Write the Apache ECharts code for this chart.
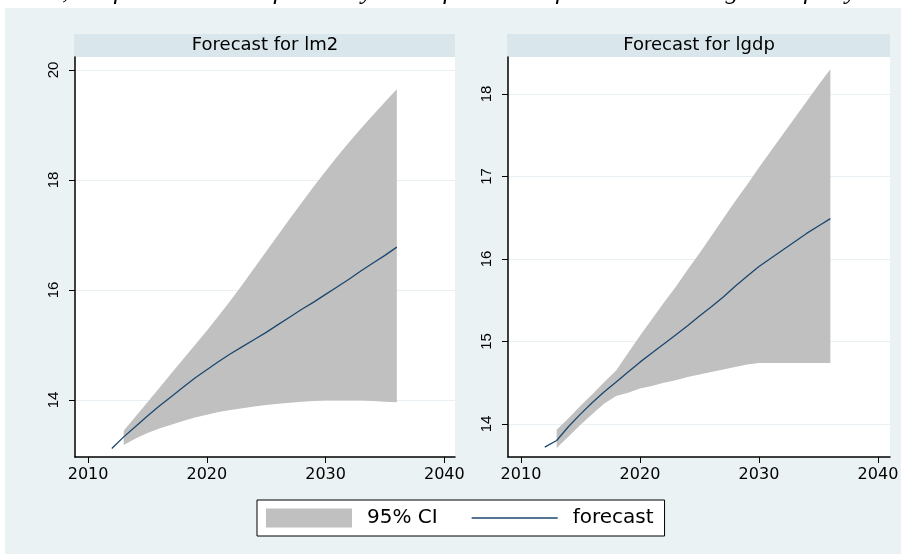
<!DOCTYPE html>
<html>
<head>
<meta charset="utf-8">
<script src="https://cdn.jsdelivr.net/npm/echarts@6/dist/echarts.min.js"></script>
<style>
  html, body { margin: 0; padding: 0; background: #ffffff; }
  #chart { width: 906px; height: 554px; }
</style>
</head>
<body>
<div id="chart"></div>
<script>
// Forecast horizon (annual)
const forecastYears = [2012, 2013, 2014, 2015, 2016, 2017, 2018, 2019, 2020, 2021, 2022, 2023, 2024,
                       2025, 2026, 2027, 2028, 2029, 2030, 2031, 2032, 2033, 2034, 2035, 2036];
const ciYears = [2013, 2014, 2015, 2016, 2017, 2018, 2019, 2020, 2021, 2022, 2023, 2024,
                 2025, 2026, 2027, 2028, 2029, 2030, 2031, 2032, 2033, 2034, 2035, 2036];

// lm2: dynamic forecast and 95% band
const lm2Forecast = [13.12, 13.33, 13.52, 13.71, 13.89, 14.06, 14.23, 14.40, 14.55, 14.70, 14.84, 14.97, 15.10,
                     15.23, 15.37, 15.51, 15.65, 15.78, 15.92, 16.06, 16.20, 16.35, 16.49, 16.63, 16.78];
const lm2Lower = [13.18, 13.30, 13.40, 13.48, 13.55, 13.62, 13.68, 13.73, 13.78, 13.82, 13.85, 13.88,
                  13.91, 13.93, 13.95, 13.97, 13.98, 13.99, 13.99, 13.99, 13.99, 13.98, 13.97, 13.96];
const lm2Upper = [13.44, 13.70, 13.96, 14.22, 14.48, 14.74, 15.00, 15.26, 15.53, 15.81, 16.10, 16.40,
                  16.70, 17.00, 17.30, 17.59, 17.88, 18.16, 18.43, 18.69, 18.94, 19.18, 19.42, 19.65];

// lgdp: dynamic forecast and 95% band
const lgdpForecast = [13.72, 13.80, 13.97, 14.12, 14.26, 14.39, 14.51, 14.63, 14.75, 14.86, 14.97, 15.08, 15.19,
                      15.31, 15.42, 15.54, 15.67, 15.79, 15.91, 16.01, 16.11, 16.21, 16.31, 16.40, 16.49];
const lgdpLower = [13.71, 13.85, 13.99, 14.12, 14.25, 14.34, 14.38, 14.43, 14.46, 14.50, 14.53, 14.57,
                   14.60, 14.63, 14.66, 14.69, 14.72, 14.74, 14.74, 14.74, 14.74, 14.74, 14.74, 14.74];
const lgdpUpper = [13.93, 14.07, 14.22, 14.36, 14.51, 14.65, 14.86, 15.07, 15.27, 15.47, 15.66, 15.87,
                   16.07, 16.28, 16.49, 16.70, 16.90, 17.11, 17.31, 17.51, 17.71, 17.91, 18.11, 18.30];

// Axis ticks and labels
const xTicks = [2010, 2020, 2030, 2040];
const lm2Ticks = [14, 16, 18, 20];
const lgdpTicks = [14, 15, 16, 17, 18];
const panelTitles = ['Forecast for lm2', 'Forecast for lgdp'];
const ciName = '95% CI';
const lineName = 'forecast';
const captionText = 'forecast, the forecast errors for the dynamic forecasts of the levels diverge to infinity.';

const BAND = '#c0c0c0';
const NAVY = '#1a476f';
const REGION = '#eaf2f3';
const STRIP = '#d9e6eb';
const GRIDLINE = '#e8f0f3';

const pairs = (xs, ys) => xs.map((x, i) => [x, ys[i]]);

function xAxisFor(gridIndex, min, max) {
  return {
    type: 'value', gridIndex, min, max,
    axisLine: { show: true, onZero: false, lineStyle: { color: '#000', width: 1.5 } },
    axisTick: { show: true, length: 6, customValues: xTicks, lineStyle: { color: '#000', width: 1 } },
    axisLabel: { customValues: xTicks, formatter: v => String(v), color: '#000',
                 fontFamily: 'DejaVu Sans', fontSize: 16, margin: 10 },
    splitLine: { show: false }
  };
}
function yAxisFor(gridIndex, min, max, ticks) {
  return {
    type: 'value', gridIndex, min, max,
    axisLine: { show: true, onZero: false, lineStyle: { color: '#000', width: 1.5 } },
    axisTick: { show: true, length: 6, customValues: ticks, lineStyle: { color: '#000', width: 1 } },
    axisLabel: { customValues: ticks, formatter: v => String(v), rotate: 90, color: '#000',
                 fontFamily: 'Liberation Sans', fontSize: 15, margin: 14 },
    splitLine: { show: true, lineStyle: { color: GRIDLINE, width: 1 } }
  };
}

// Shaded confidence band: one polygon along the upper bound and back along the lower bound
function bandSeries(idx, lower, upper) {
  return {
    name: ciName, type: 'custom', xAxisIndex: idx, yAxisIndex: idx,
    data: ciYears.map((y, i) => [y, lower[i], upper[i]]),
    encode: { x: 0, y: [1, 2] },
    clip: true, silent: true, z: 2,
    itemStyle: { color: BAND },
    renderItem(params, api) {
      if (params.dataIndex !== 0) return null;
      const top = ciYears.map((y, i) => api.coord([y, upper[i]]));
      const bottom = ciYears.map((y, i) => api.coord([y, lower[i]])).reverse();
      return { type: 'polygon', shape: { points: top.concat(bottom) }, style: { fill: BAND } };
    }
  };
}
function lineSeries(idx, forecast) {
  return {
    name: lineName, type: 'line', xAxisIndex: idx, yAxisIndex: idx,
    data: pairs(forecastYears, forecast), symbol: 'none', silent: true,
    itemStyle: { color: NAVY },
    lineStyle: { color: NAVY, width: 1.3 }, z: 3
  };
}

const chart = echarts.init(document.getElementById('chart'), null, { renderer: 'canvas' });
chart.setOption({
  animation: false,
  backgroundColor: '#ffffff',
  grid: [
    { left: 75, top: 57, width: 380, height: 400, show: true, backgroundColor: '#ffffff', borderWidth: 0 },
    { left: 508, top: 57, width: 382, height: 400, show: true, backgroundColor: '#ffffff', borderWidth: 0 }
  ],
  xAxis: [xAxisFor(0, 2008.9, 2040.9), xAxisFor(1, 2008.91, 2041.01)],
  yAxis: [yAxisFor(0, 12.964, 20.236, lm2Ticks), yAxisFor(1, 13.6, 18.4485, lgdpTicks)],
  legend: {
    data: [
      { name: ciName, icon: 'rect', itemStyle: { color: BAND } },
      { name: lineName, icon: 'path://M0,0 L86,0 L86,1.3 L0,1.3 Z', itemStyle: { color: NAVY } }
    ],
    left: 257, top: 500,
    padding: [8, 11, 8, 9],
    itemGap: 34, itemWidth: 86, itemHeight: 19,
    symbolKeepAspect: true,
    backgroundColor: '#ffffff', borderColor: '#000', borderWidth: 1,
    selectedMode: false,
    textStyle: { color: '#000', fontFamily: 'DejaVu Sans', fontSize: 20, padding: [0, 0, 0, 10] }
  },
  graphic: [
    { type: 'rect', z: -100, silent: true, shape: { x: 5, y: 8, width: 896, height: 546 }, style: { fill: REGION } },
    { type: 'text', silent: true, style: { text: captionText, x: 862, y: 5, align: 'right', verticalAlign: 'bottom',
        font: 'italic 26px "Liberation Serif"', fill: '#000' } },
    { type: 'rect', silent: true, shape: { x: 74, y: 34, width: 381, height: 23 }, style: { fill: STRIP } },
    { type: 'text', silent: true, style: { text: panelTitles[0], x: 265, y: 45.5, align: 'center', verticalAlign: 'middle',
        font: '18px "DejaVu Sans"', fill: '#000' } },
    { type: 'rect', silent: true, shape: { x: 507, y: 34, width: 383, height: 23 }, style: { fill: STRIP } },
    { type: 'text', silent: true, style: { text: panelTitles[1], x: 699, y: 45.5, align: 'center', verticalAlign: 'middle',
        font: '18px "DejaVu Sans"', fill: '#000' } }
  ],
  series: [
    bandSeries(0, lm2Lower, lm2Upper),
    lineSeries(0, lm2Forecast),
    bandSeries(1, lgdpLower, lgdpUpper),
    lineSeries(1, lgdpForecast)
  ]
});
</script>
</body>
</html>
